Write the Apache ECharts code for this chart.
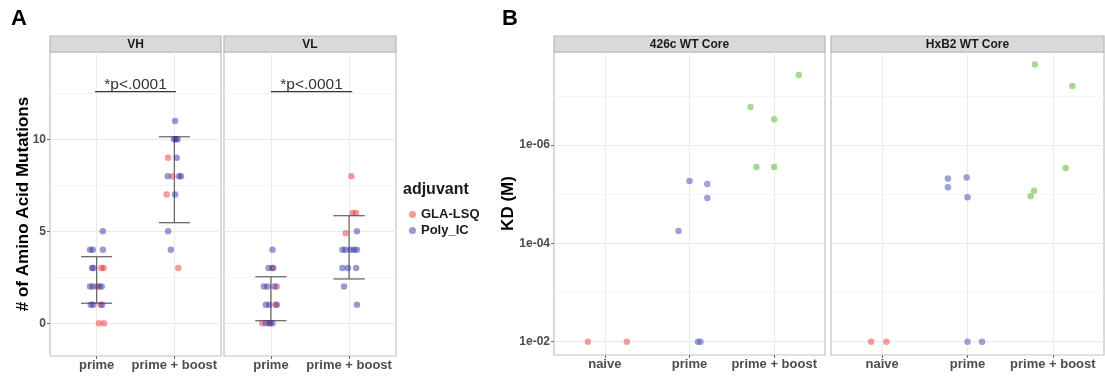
<!DOCTYPE html>
<html>
<head>
<meta charset="utf-8">
<script src="https://cdn.jsdelivr.net/npm/echarts@6/dist/echarts.min.js"></script>
<style>
  html, body { margin: 0; padding: 0; background: #fff; }
  #chart { width: 1105px; height: 376px; }
</style>
</head>
<body>
<div id="chart"></div>
<script>
const FONT = '"Liberation Sans", Arial, sans-serif';

// categories
const catsA = ['prime', 'prime + boost'];
const catsB = ['naive', 'prime', 'prime + boost'];

// Panel A, VH facet: mutation counts and horizontal jitter (category units)
const vhGlaPrime = [3, 3, 2, 1, 0, 0];
const vhGlaPrimeJit = [0.06, 0.09, 0.0, 0.05, 0.03, 0.095];
const vhPolyPrime = [5, 4, 4, 4, 3, 3, 2, 2, 2, 2, 1, 1, 1];
const vhPolyPrimeJit = [0.08, -0.085, -0.05, 0.08, -0.06, -0.04, -0.085, -0.05, 0.035, 0.065, -0.075, -0.045, 0.07];
const vhGlaBoost = [9, 8, 7, 3];
const vhGlaBoostJit = [-0.08, -0.025, -0.1, 0.05];
const vhPolyBoost = [11, 10, 10, 10, 9, 8, 8, 8, 7, 5, 4];
const vhPolyBoostJit = [0.01, -0.005, 0.02, 0.04, 0.03, -0.085, 0.06, 0.085, 0.01, -0.08, -0.045];

// Panel A, VL facet
const vlGlaPrime = [3, 2, 1, 0, 0];
const vlGlaPrimeJit = [0.015, 0.075, 0.06, -0.11, -0.02];
const vlPolyPrime = [4, 3, 3, 2, 2, 2, 1, 1, 1, 0, 0, 0];
const vlPolyPrimeJit = [0.02, -0.03, 0.03, -0.09, -0.045, 0.045, -0.065, -0.02, 0.075, -0.065, -0.01, 0.02];
const vlGlaBoost = [8, 6, 6, 4.9];
const vlGlaBoostJit = [0.03, 0.045, 0.09, -0.045];
const vlPolyBoost = [5, 4, 4, 4, 4, 4, 3, 3, 3, 2, 1];
const vlPolyBoostJit = [0.1, -0.085, -0.045, 0.02, 0.065, 0.1, -0.085, -0.015, 0.09, -0.065, 0.1];

// error bars: [category, lower, upper]
const vhErr = [[1, 1.09, 3.62], [2, 5.47, 10.14]];
const vlErr = [[1, 0.14, 2.53], [2, 2.41, 5.85]];
// significance bars: [x from, x to, y]
const vhSig = [[0.98, 2.02, 12.6]];
const vlSig = [[1.0, 2.04, 12.6]];
const sigLabel = '*p<.0001';

const ticksA = [0, 5, 10];
const minorA = [2.5, 7.5, 12.5];

// Panel B: KD (M) and jitter
const c426Naive = [1e-2, 1e-2];
const c426NaiveJit = [-0.2, 0.26];
const c426Prime = [5.6e-5, 5.4e-6, 6.2e-6, 1.2e-5, 1e-2, 1e-2];
const c426PrimeJit = [-0.13, 0, 0.21, 0.21, 0.1, 0.13];
const c426Boost = [3.8e-8, 1.7e-7, 3.0e-7, 2.8e-6, 2.8e-6];
const c426BoostJit = [0.29, -0.28, 0, -0.21, 0];
const hxbNaive = [1e-2, 1e-2];
const hxbNaiveJit = [-0.13, 0.05];
const hxbPrime = [4.8e-6, 7.2e-6, 4.6e-6, 1.15e-5, 1e-2, 1e-2];
const hxbPrimeJit = [-0.23, -0.23, -0.01, 0, 0, 0.17];
const hxbBoost = [2.3e-8, 6.3e-8, 2.95e-6, 8.5e-6, 1.1e-5];
const hxbBoostJit = [-0.21, 0.23, 0.15, -0.22, -0.26];

const ticksB = [-6, -4, -2];   // log10 exponents
const minorB = [-7, -5, -3];

const RED = 'rgba(230,30,30,0.55)';
const BLUE = 'rgba(40,45,160,0.6)';
const B_RED = 'rgba(234,92,92,0.75)';
const B_BLUE = 'rgba(91,98,191,0.75)';
const B_GREEN = 'rgba(108,190,68,0.75)';

const GRIDS = [
  { left: 50, top: 52, width: 171, height: 304 },
  { left: 224, top: 52, width: 172, height: 304 },
  { left: 554, top: 52, width: 271, height: 303 },
  { left: 831, top: 52, width: 273, height: 303 }
];
const STRIPS = ['VH', 'VL', '426c WT Core', 'HxB2 WT Core'];

const pts = (cat, vals, jit, tf) => vals.map((v, i) => [cat + jit[i], tf ? tf(v) : v]);
const log = (v) => Math.log10(v);

const chart = echarts.init(document.getElementById('chart'));

const labelStyle = { fontFamily: FONT, fontWeight: 'bold', color: '#4d4d4d' };

function xAxis(gi, cats) {
  const vals = cats.map((c, i) => i + 1);
  return {
    type: 'value', gridIndex: gi, min: 0.4, max: cats.length + 0.6,
    axisLine: { show: false, onZero: false },
    axisTick: { show: true, length: 3, customValues: vals, lineStyle: { color: '#666' } },
    axisLabel: Object.assign({ customValues: vals, margin: 3, fontSize: 13,
      formatter: (v) => cats[Math.round(v) - 1] }, labelStyle),
    splitLine: { show: true, lineStyle: { color: '#ebebeb', width: 1 } }
  };
}

function yAxis(gi, min, max, ticks, showLabels, fmt, inverse, extra) {
  return Object.assign({
    type: 'value', gridIndex: gi, min, max, inverse: !!inverse,
    axisLine: { show: false, onZero: false },
    axisTick: { show: showLabels, length: 3, customValues: ticks, lineStyle: { color: '#666' } },
    axisLabel: Object.assign({ show: showLabels, customValues: ticks, margin: 4, fontSize: 12,
      formatter: fmt }, labelStyle),
    splitLine: { show: true, lineStyle: { color: '#ebebeb', width: 1 } }
  }, extra || {});
}

function yMinor(gi, min, max, ticks, inverse) {
  return {
    type: 'value', gridIndex: gi, min, max, inverse: !!inverse,
    axisLine: { show: false, onZero: false },
    axisTick: { show: false, customValues: ticks },
    axisLabel: { show: false, customValues: ticks },
    splitLine: { show: true, lineStyle: { color: '#f5f5f5', width: 1 } }
  };
}

const fmtB = (v) => '1e-' + String(-v).padStart(2, '0');

function scatter(name, xi, yi, data, color) {
  return {
    type: 'scatter', name, xAxisIndex: xi, yAxisIndex: yi, data,
    symbolSize: 6.5, itemStyle: { color }, z: 3, silent: true
  };
}

function errSeries(xi, yi, data) {
  return {
    type: 'custom', xAxisIndex: xi, yAxisIndex: yi, data, z: 2, silent: true,
    renderItem: (params, api) => {
      const x = api.value(0), lo = api.value(1), hi = api.value(2);
      const a = api.coord([x - 0.2, hi]), b = api.coord([x + 0.2, hi]);
      const c = api.coord([x - 0.2, lo]), d = api.coord([x + 0.2, lo]);
      const m1 = api.coord([x, hi]), m2 = api.coord([x, lo]);
      const st = { stroke: '#6b6b6b', lineWidth: 1.3 };
      return { type: 'group', children: [
        { type: 'line', shape: { x1: m1[0], y1: m1[1], x2: m2[0], y2: m2[1] }, style: st },
        { type: 'line', shape: { x1: a[0], y1: a[1], x2: b[0], y2: b[1] }, style: st },
        { type: 'line', shape: { x1: c[0], y1: c[1], x2: d[0], y2: d[1] }, style: st }
      ] };
    }
  };
}

function sigSeries(xi, yi, data) {
  return {
    type: 'custom', xAxisIndex: xi, yAxisIndex: yi, data, z: 2, silent: true,
    renderItem: (params, api) => {
      const p1 = api.coord([api.value(0), api.value(2)]);
      const p2 = api.coord([api.value(1), api.value(2)]);
      return { type: 'group', children: [
        { type: 'line', shape: { x1: p1[0], y1: p1[1], x2: p2[0], y2: p2[1] },
          style: { stroke: '#333', lineWidth: 1.2 } },
        { type: 'text', x: (p1[0] + p2[0]) / 2, y: p1[1] + 1.5,
          style: { text: sigLabel, textAlign: 'center', textVerticalAlign: 'bottom',
            fontFamily: FONT, fontSize: 15.5, fill: '#333' } }
      ] };
    }
  };
}

const graphics = [];
GRIDS.forEach((g, i) => {
  graphics.push({ type: 'rect', shape: { x: g.left, y: 36, width: g.width, height: 16 },
    style: { fill: '#d9d9d9', stroke: '#b8b8b8', lineWidth: 1.2 }, silent: true });
  graphics.push({ type: 'text', x: g.left + g.width / 2, y: 44.5,
    style: { text: STRIPS[i], textAlign: 'center', textVerticalAlign: 'middle',
      fontFamily: FONT, fontWeight: 'bold', fontSize: 12, fill: '#1a1a1a' }, silent: true });
});
graphics.push({ type: 'text', x: 11, y: 8, style: { text: 'A', fontFamily: FONT, fontWeight: 'bold',
  fontSize: 22, fill: '#000' } });
graphics.push({ type: 'text', x: 502, y: 8, style: { text: 'B', fontFamily: FONT, fontWeight: 'bold',
  fontSize: 22, fill: '#000' } });
graphics.push({ type: 'text', x: 403, y: 190, style: { text: 'adjuvant', textVerticalAlign: 'middle',
  fontFamily: FONT, fontWeight: 'bold', fontSize: 16, fill: '#1a1a1a' } });

const option = {
  backgroundColor: '#fff',
  animation: false,
  textStyle: { fontFamily: FONT },
  grid: GRIDS.map((g) => Object.assign({ show: true, borderColor: '#c2c2c2', borderWidth: 1.2,
    backgroundColor: '#fff', containLabel: false }, g)),
  legend: {
    data: ['GLA-LSQ', 'Poly_IC'], orient: 'vertical', left: 404, top: 203,
    icon: 'circle', itemWidth: 7, itemHeight: 7, itemGap: 3, itemTextGap: 9,
    selectedMode: false,
    textStyle: { fontFamily: FONT, fontWeight: 'bold', fontSize: 13, color: '#1a1a1a', lineHeight: 9 }
  },
  graphic: graphics,
  xAxis: [xAxis(0, catsA), xAxis(1, catsA), xAxis(2, catsB), xAxis(3, catsB)],
  yAxis: [
    yAxis(0, -1.78, 14.75, ticksA, true, (v) => String(v), false,
      { name: '# of Amino Acid Mutations', nameLocation: 'middle', nameGap: 18, nameMoveOverlap: false,
        nameTextStyle: { fontFamily: FONT, fontWeight: 'bold', fontSize: 17, color: '#000' } }),
    yMinor(0, -1.78, 14.75, minorA),
    yAxis(1, -1.78, 14.75, ticksA, false, (v) => String(v)),
    yMinor(1, -1.78, 14.75, minorA),
    yAxis(2, -7.89, -1.73, ticksB, true, fmtB, true,
      { name: 'KD (M)', nameLocation: 'middle', nameGap: 37, nameMoveOverlap: false,
        nameTextStyle: { fontFamily: FONT, fontWeight: 'bold', fontSize: 17, color: '#000' } }),
    yMinor(2, -7.89, -1.73, minorB, true),
    yAxis(3, -7.89, -1.73, ticksB, false, fmtB, true),
    yMinor(3, -7.89, -1.73, minorB, true)
  ],
  series: [
    errSeries(0, 0, vhErr),
    sigSeries(0, 0, vhSig),
    scatter('GLA-LSQ', 0, 0, pts(1, vhGlaPrime, vhGlaPrimeJit).concat(pts(2, vhGlaBoost, vhGlaBoostJit)), RED),
    scatter('Poly_IC', 0, 0, pts(1, vhPolyPrime, vhPolyPrimeJit).concat(pts(2, vhPolyBoost, vhPolyBoostJit)), BLUE),
    errSeries(1, 2, vlErr),
    sigSeries(1, 2, vlSig),
    scatter('GLA-LSQ', 1, 2, pts(1, vlGlaPrime, vlGlaPrimeJit).concat(pts(2, vlGlaBoost, vlGlaBoostJit)), RED),
    scatter('Poly_IC', 1, 2, pts(1, vlPolyPrime, vlPolyPrimeJit).concat(pts(2, vlPolyBoost, vlPolyBoostJit)), BLUE),
    scatter('naive', 2, 4, pts(1, c426Naive, c426NaiveJit, log), B_RED),
    scatter('prime', 2, 4, pts(2, c426Prime, c426PrimeJit, log), B_BLUE),
    scatter('prime + boost', 2, 4, pts(3, c426Boost, c426BoostJit, log), B_GREEN),
    scatter('naive', 3, 6, pts(1, hxbNaive, hxbNaiveJit, log), B_RED),
    scatter('prime', 3, 6, pts(2, hxbPrime, hxbPrimeJit, log), B_BLUE),
    scatter('prime + boost', 3, 6, pts(3, hxbBoost, hxbBoostJit, log), B_GREEN)
  ]
};

chart.setOption(option);
</script>
</body>
</html>
